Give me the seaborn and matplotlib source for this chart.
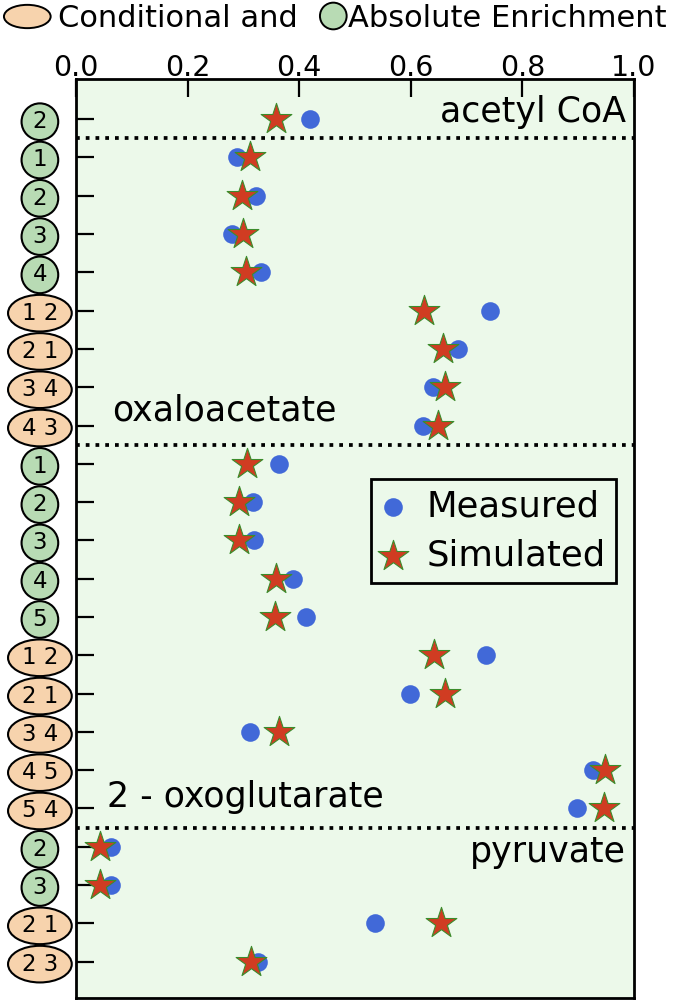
import numpy as np
import pandas as pd
import matplotlib
matplotlib.use("Agg")
import matplotlib.pyplot as plt
from matplotlib.path import Path
from matplotlib.transforms import Affine2D
from matplotlib.patches import Ellipse
import seaborn as sns

# row labels (top to bottom); two atoms -> conditional, one atom -> absolute
row_labels = ["2",
              "1", "2", "3", "4", "1 2", "2 1", "3 4", "4 3",
              "1", "2", "3", "4", "5", "1 2", "2 1", "3 4", "4 5", "5 4",
              "2", "3", "2 1", "2 3"]
conditional = [len(s) > 1 for s in row_labels]

measured = [0.419, 0.288, 0.322, 0.280, 0.332, 0.742, 0.684, 0.640, 0.621,
            0.363, 0.317, 0.319, 0.389, 0.413, 0.735, 0.599, 0.312, 0.926, 0.897,
            0.063, 0.063, 0.536, 0.326]
simulated = [0.358, 0.311, 0.298, 0.300, 0.305, 0.624, 0.658, 0.662, 0.648,
             0.307, 0.292, 0.292, 0.358, 0.356, 0.642, 0.661, 0.363, 0.948, 0.946,
             0.043, 0.043, 0.654, 0.314]

# separators between metabolites
group_breaks = [0.5, 8.5, 18.5]
x_ticks = [0.0, 0.2, 0.4, 0.6, 0.8, 1.0]

green = "#b8dbb4"
peach = "#f7d3ad"
bg = "#ecf9ea"

df = pd.DataFrame({"row": np.arange(len(row_labels)),
                   "Measured": measured, "Simulated": simulated})

sns.set_style("ticks")
plt.rcParams["font.family"] = ["DejaVu Sans"]
for k in ["text.color", "xtick.color", "ytick.color", "axes.edgecolor",
          "axes.labelcolor"]:
    plt.rcParams[k] = "black"


def oval(rx, ry):
    # fixed size ellipse around the tick label, in units of font size
    def style(x0, y0, width, height, mutation_size):
        t = Affine2D().scale(rx * mutation_size, ry * mutation_size)
        t = t.translate(x0 + width / 2, y0 + height / 2)
        return t.transform_path(Path.unit_circle())
    return style


fig = plt.figure(figsize=(6.78, 10), dpi=100)
ax = fig.add_axes([0.1121, 0.002, 0.8230, 0.919])
ax.set_facecolor(bg)

sns.scatterplot(data=df, x="Measured", y="row", ax=ax, color="#4169d8",
                s=180, linewidth=0, marker="o", label="Measured", zorder=3)
sns.scatterplot(data=df, x="Simulated", y="row", ax=ax, color="#d03c22",
                edgecolor="#3c8c2c", linewidth=0.8, s=540, marker="*",
                label="Simulated", zorder=4)

for b in group_breaks:
    ax.axhline(b, color="black", lw=2.7, linestyle=(0, (1, 1.6)), zorder=2)

ax.set_xlim(0, 1)
ax.set_ylim(22.95, -1.05)
ax.set_xlabel("")
ax.set_ylabel("")

ax.xaxis.tick_top()
ax.set_xticks(x_ticks)
ax.set_xticklabels([f"{t:.1f}" for t in x_ticks], fontsize=20.5)
ax.tick_params(axis="x", direction="in", length=13, width=1.6, pad=-2)

ax.set_yticks(df["row"])
ax.set_yticklabels(row_labels, fontsize=16.5, ha="center")
ax.tick_params(axis="y", direction="in", length=13, width=1.6, pad=26)
for lab, cond in zip(ax.get_yticklabels(), conditional):
    fc = peach if cond else green
    rx = 1.39 if cond else 0.80
    lab.set_bbox(dict(boxstyle=oval(rx, 0.80), fc=fc, ec="black", lw=1.5))

for sp in ax.spines.values():
    sp.set_linewidth(2)

# metabolite names
ax.text(0.985, -0.2, "acetyl CoA", fontsize=25, ha="right", va="center")
ax.text(0.065, 7.6, "oxaloacetate", fontsize=25, ha="left", va="center")
ax.text(0.055, 17.7, "2 - oxoglutarate", fontsize=25, ha="left", va="center")
ax.text(0.985, 19.15, "pyruvate", fontsize=25, ha="right", va="center")

leg = ax.legend(loc="upper right", bbox_to_anchor=(0.968, 0.5647), fontsize=25.5,
                frameon=True, fancybox=False, borderaxespad=0, handletextpad=0.65,
                borderpad=0.3, labelspacing=0.42, handlelength=0.6)
frame = leg.get_frame()
frame.set_edgecolor("black")
frame.set_linewidth(2)
frame.set_facecolor(bg)
frame.set_alpha(1)

# header key: ellipse = conditional, circle = absolute enrichment
W, H = 678.0, 1000.0
fig.add_artist(Ellipse((27.3 / W, 1 - 16.5 / H), 46.7 / W, 23.3 / H,
                       transform=fig.transFigure, fc=peach, ec="black", lw=1.4))
fig.add_artist(Ellipse((333.3 / W, 1 - 16.0 / H), 26.7 / W, 26.7 / H,
                       transform=fig.transFigure, fc=green, ec="black", lw=1.4))
fig.text(58 / W, 1 - 27 / H, "Conditional and", fontsize=22, ha="left",
         va="baseline")
fig.text(348 / W, 1 - 27 / H, "Absolute Enrichment", fontsize=22, ha="left",
         va="baseline")

fig.savefig("out.png", dpi=100)
